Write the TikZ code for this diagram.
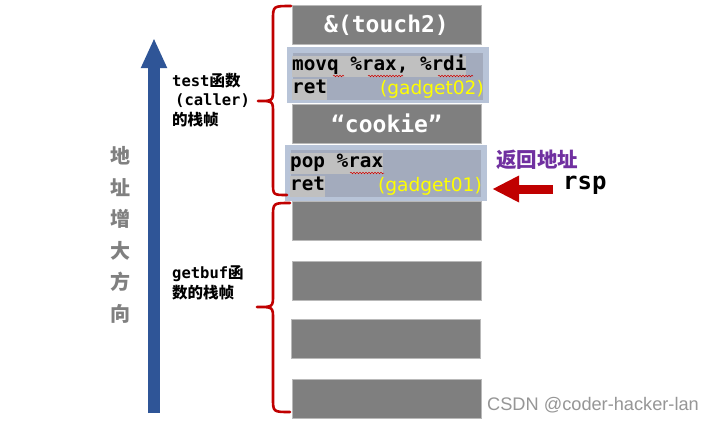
\documentclass[tikz,border=0pt]{standalone}
\usepackage{fontspec}
\usetikzlibrary{decorations.pathmorphing,arrows.meta}
\newfontfamily\monof{DejaVu Sans Mono}
\newfontfamily\cjkf{Noto Sans CJK SC}
\newfontfamily\sansf{DejaVu Sans}
\newfontfamily\wmf{Liberation Sans}
\definecolor{slotgray}{RGB}{127,127,127}
\definecolor{slotedge}{RGB}{185,185,185}
\definecolor{gadouter}{RGB}{184,196,216}
\definecolor{gadinner}{RGB}{163,171,189}
\definecolor{hlgray}{RGB}{192,192,192}
\definecolor{bracered}{RGB}{192,0,0}
\definecolor{arrowblue}{RGB}{47,85,151}
\definecolor{labpurple}{RGB}{112,48,160}
\definecolor{gadyellow}{RGB}{255,255,0}
\definecolor{vtgray}{RGB}{128,128,128}
\definecolor{wmgray}{RGB}{150,150,150}
\tikzset{
  slot/.style={fill=slotgray, draw=slotedge, line width=0.8pt, minimum width=189pt, minimum height=39pt, inner sep=0pt, text=white, font=\monof\bfseries\fontsize{23}{25}\selectfont},
  gadout/.style={fill=gadouter, minimum width=202pt, minimum height=56pt, inner sep=0pt},
  gadin/.style={fill=gadinner, minimum width=190pt, minimum height=47pt, inner sep=0pt},
  codeline/.style={fill=hlgray, anchor=west, inner sep=0pt, text height=15pt, text depth=6pt, font=\monof\bfseries\fontsize{19.3}{20}\selectfont},
  gadlabel/.style={anchor=east, inner sep=0pt, text=gadyellow, font=\sansf\fontsize{18.6}{20}\selectfont},
  framelabel/.style={align=left, inner sep=0pt, anchor=west, font=\fontsize{15.5}{20}\selectfont},
  bracket/.style={draw=bracered, line width=2.6pt, line cap=round, line join=round},
  squiggle/.style={draw=red!80!black, line width=0.5pt, decorate, decoration={snake, amplitude=0.8pt, segment length=3pt}},
}
\begin{document}
\begin{tikzpicture}[x=1pt,y=-1pt]
\useasboundingbox (0,0) rectangle (720,421);
\fill[white] (0,0) rectangle (720,421);

% stack slots
\node[slot] (s1) at (386.5,25) {\&(touch2)};
\node[gadout] (g2) at (388,75) {};
\node[gadin] (g2i) at (387.5,76.5) {};
\node[codeline] (g2a) at (292,66) {movq \%rax, \%rdi};
\node[codeline] (g2b) at (292,89) {ret};
\node[gadlabel] (g2l) at (484,89) {(gadget02)};
\node[slot] (s2) at (386.5,123.5) {“cookie”};
\node[gadout] (g1) at (386,173) {};
\node[gadin] (g1i) at (386,173.5) {};
\node[codeline] (g1a) at (290,163) {pop \%rax};
\node[codeline] (g1b) at (290,186) {ret};
\node[gadlabel] (g1l) at (482,186) {(gadget01)};
\node[slot] (s3) at (386.5,221) {};
\node[slot] (s4) at (386.5,280.5) {};
\node[slot] (s5) at (385.5,339) {};
\node[slot] (s6) at (386.5,398.5) {};

% spell-check squiggles
\draw[squiggle] (333,76) -- (344,76);
\draw[squiggle] (368,76) -- (403,76);
\draw[squiggle] (438,76) -- (473,76);
\draw[squiggle] (350,173) -- (384,173);

% brackets
\draw[bracket] (291,6) .. controls (273,6) .. (273,20) -- (273,89) .. controls (273,101) .. (258,101) .. controls (273,101) .. (273,113) -- (273,183) .. controls (273,195) .. (287,195);
\draw[bracket] (290,203) .. controls (273,203) .. (273,217) -- (273,295) .. controls (273,307) .. (257,307) .. controls (273,307) .. (273,319) -- (273,398) .. controls (273,412) .. (290,412);

% frame labels
\node[framelabel] (tl) at (172,100) {{\monof\bfseries test}{\cjkf\bfseries 函数}\\[-1pt]\hspace*{3pt}{\monof\bfseries (caller)}\\{\cjkf\bfseries 的栈帧}};
\node[framelabel] (gl) at (172,283) {{\monof\bfseries getbuf}{\cjkf\bfseries 函}\\{\cjkf\bfseries 数的栈帧}};

% address direction arrow
\coordinate (ab) at (154,413);
\coordinate (at) at (154,38);
\draw[arrowblue, line width=12pt, -{Triangle[length=30pt, width=24pt]}] (ab) -- (at);
\node[align=center, inner sep=0pt, text=vtgray, font=\cjkf\bfseries\fontsize{20}{31.5}\selectfont] (vt) at (120,235) {地\\址\\增\\大\\方\\向};

% return address and rsp
\node[anchor=west, inner sep=0pt, text=labpurple, font=\cjkf\bfseries\fontsize{20.5}{22}\selectfont] (ra) at (496,160) {返回地址};
\node[anchor=west, inner sep=0pt, font=\monof\bfseries\fontsize{24}{26}\selectfont] (rsp) at (563,185) {rsp};
\draw[bracered, line width=9pt, -{Triangle[length=27pt, width=25pt]}, shorten <=10pt, shorten >=5pt] (rsp.west |- 0,189) -- (g1.east |- 0,189);

% watermark
\node[anchor=west, inner sep=0pt, text=wmgray, font=\wmf\fontsize{18.2}{20}\selectfont] (wm) at (487,405) {CSDN @coder-hacker-lan};
\end{tikzpicture}
\end{document}
